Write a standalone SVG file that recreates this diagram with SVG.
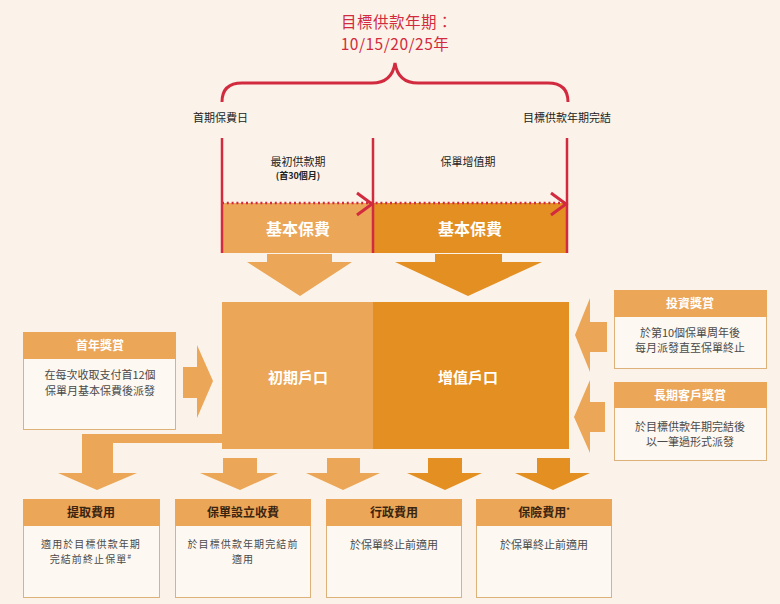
<svg xmlns="http://www.w3.org/2000/svg" width="780" height="604" viewBox="0 0 780 604">
<style>
.t{font-family:"Noto Sans CJK TC","Noto Sans",sans-serif}
.light{fill:#EBA657}
.dark{fill:#E38F22}
.red{stroke:#D22B3F;fill:none}
.body{fill:#FDF8F1;stroke:#DDB27A;stroke-width:1}
.hw{font-size:12px;fill:#fff;font-weight:bold;text-anchor:middle}
.hd{font-size:12px;fill:#3a2410;font-weight:bold;text-anchor:middle}
.bt{font-size:11px;fill:#4a4a4a;text-anchor:middle}
.bs{font-size:10px;fill:#4a4a4a;text-anchor:middle;letter-spacing:1.1px}
.lab{font-size:11px;fill:#222}
</style>
<rect width="780" height="604" fill="#FBF3E9"/>

<g id="title">
<text class="t" font-size="15.5" fill="#D22B3F" text-anchor="middle" letter-spacing="0.5"><tspan x="397" y="27.5">目標供款年期：</tspan><tspan x="395" y="50.2">10/15/20/25年</tspan></text>
<path class="red" stroke-width="3" d="M222,102 Q222,83 242,83 L372,83 Q392,83 395,63 Q398,83 418,83 L548,83 Q568,83 568,102"/>
<text class="t lab" x="193" y="122">首期保費日</text>
<text class="t lab" x="523" y="122">目標供款年期完結</text>
</g>

<g id="timeline">
<rect class="light" x="222" y="203" width="151" height="50"/>
<rect class="dark" x="373" y="203" width="194" height="50"/>
<line class="red" x1="222" y1="203" x2="567" y2="203" stroke-width="2.5" stroke-dasharray="2 2.8"/>
<line class="red" x1="222" y1="138" x2="222" y2="253" stroke-width="2.5"/>
<line class="red" x1="373" y1="138" x2="373" y2="253" stroke-width="2.5"/>
<line class="red" x1="567" y1="138" x2="567" y2="253" stroke-width="2.5"/>
<polyline class="red" points="357,193 372,204 357,215" stroke-width="3"/>
<polyline class="red" points="551,193 566,204 551,215" stroke-width="3"/>
<text class="t" font-size="11" fill="#222" text-anchor="middle"><tspan x="298" y="166">最初供款期</tspan><tspan x="298" y="179" font-size="9" font-weight="bold">(首30個月)</tspan></text>
<text class="t" x="468" y="166" font-size="11" fill="#222" text-anchor="middle">保單增值期</text>
<text class="t" x="298" y="235" font-size="16" fill="#fff" font-weight="bold" text-anchor="middle">基本保費</text>
<text class="t" x="470" y="235" font-size="16" fill="#fff" font-weight="bold" text-anchor="middle">基本保費</text>
</g>

<g id="connectors">
<polygon class="light" points="267,254 332,254 332,262 352,262 300,296 247,262 267,262"/>
<polygon class="dark" points="435,254 502,254 502,262 542,262 468,296 395,262 435,262"/>
<polygon class="light" points="183,367 197,367 197,345 213,381 197,418 197,398 183,398"/>
<polygon class="light" points="607,322 590,322 590,298 575,335 590,372 590,352 607,352"/>
<polygon class="light" points="605,402 590,402 590,380 574,417 590,453 590,432 605,432"/>
<polygon class="light" points="222,434 82,434 82,473 58,473 97,490 137,473 113,473 113,443 222,443"/>
<polygon class="light" points="223,458 257,458 257,473 278,473 240,490 200,473 223,473"/>
<polygon class="light" points="327,458 360,458 360,473 380,473 343,490 306,473 327,473"/>
<polygon class="dark" points="428,458 462,458 462,473 482,473 445,490 407,473 428,473"/>
<polygon class="dark" points="537,458 570,458 570,473 590,473 553,490 515,473 537,473"/>
</g>

<g id="main-box">
<rect class="light" x="222" y="302" width="151" height="147"/>
<rect class="dark" x="373" y="302" width="196" height="147"/>
<text class="t" x="298" y="383" font-size="15" fill="#fff" font-weight="bold" text-anchor="middle">初期戶口</text>
<text class="t" x="468" y="383" font-size="15" fill="#fff" font-weight="bold" text-anchor="middle">增值戶口</text>
</g>

<g id="first-year-bonus">
<rect class="body" x="23.5" y="332.5" width="152" height="97"/>
<rect class="light" x="23" y="332" width="153" height="27"/>
<text class="t hw" x="100" y="350">首年獎賞</text>
<text class="t bt"><tspan x="100" y="379">在每次收取支付首12個</tspan><tspan x="100" y="395">保單月基本保費後派發</tspan></text>
</g>

<g id="investment-bonus">
<rect class="body" x="614.5" y="290.5" width="152" height="78"/>
<rect class="light" x="614" y="290" width="153" height="27"/>
<text class="t hw" x="690" y="308">投資獎賞</text>
<text class="t bt"><tspan x="690" y="337">於第10個保單周年後</tspan><tspan x="690" y="352">每月派發直至保單終止</tspan></text>
</g>

<g id="loyalty-bonus">
<rect class="body" x="614.5" y="382.5" width="152" height="78"/>
<rect class="light" x="614" y="382" width="153" height="26"/>
<text class="t hw" x="690" y="400">長期客戶獎賞</text>
<text class="t bt"><tspan x="690" y="431">於目標供款年期完結後</tspan><tspan x="690" y="446">以一筆過形式派發</tspan></text>
</g>

<g id="withdrawal-charge">
<rect class="body" x="23.5" y="499.5" width="136" height="98"/>
<rect class="light" x="23" y="499" width="137" height="27"/>
<text class="t hd" x="91" y="517">提取費用</text>
<text class="t bs"><tspan x="91" y="548">適用於目標供款年期</tspan><tspan x="91" y="562.6">完結前終止保單</tspan><tspan font-size="7" dy="-4">#</tspan></text>
</g>

<g id="setup-charge">
<rect class="body" x="175.5" y="499.5" width="135" height="98"/>
<rect class="light" x="175" y="499" width="136" height="27"/>
<text class="t hd" x="243" y="517">保單設立收費</text>
<text class="t bs"><tspan x="243" y="548">於目標供款年期完結前</tspan><tspan x="243" y="562.6">適用</tspan></text>
</g>

<g id="admin-charge">
<rect class="body" x="326.5" y="499.5" width="135" height="98"/>
<rect class="light" x="326" y="499" width="136" height="27"/>
<text class="t hd" x="394" y="517">行政費用</text>
<text class="t bt" x="394" y="549">於保單終止前適用</text>
</g>

<g id="insurance-charge">
<rect class="body" x="476.5" y="499.5" width="135" height="98"/>
<rect class="light" x="476" y="499" width="136" height="27"/>
<text class="t hd" x="544" y="517">保險費用<tspan font-size="7" dy="-4">*</tspan></text>
<text class="t bt" x="544" y="549">於保單終止前適用</text>
</g>
</svg>
